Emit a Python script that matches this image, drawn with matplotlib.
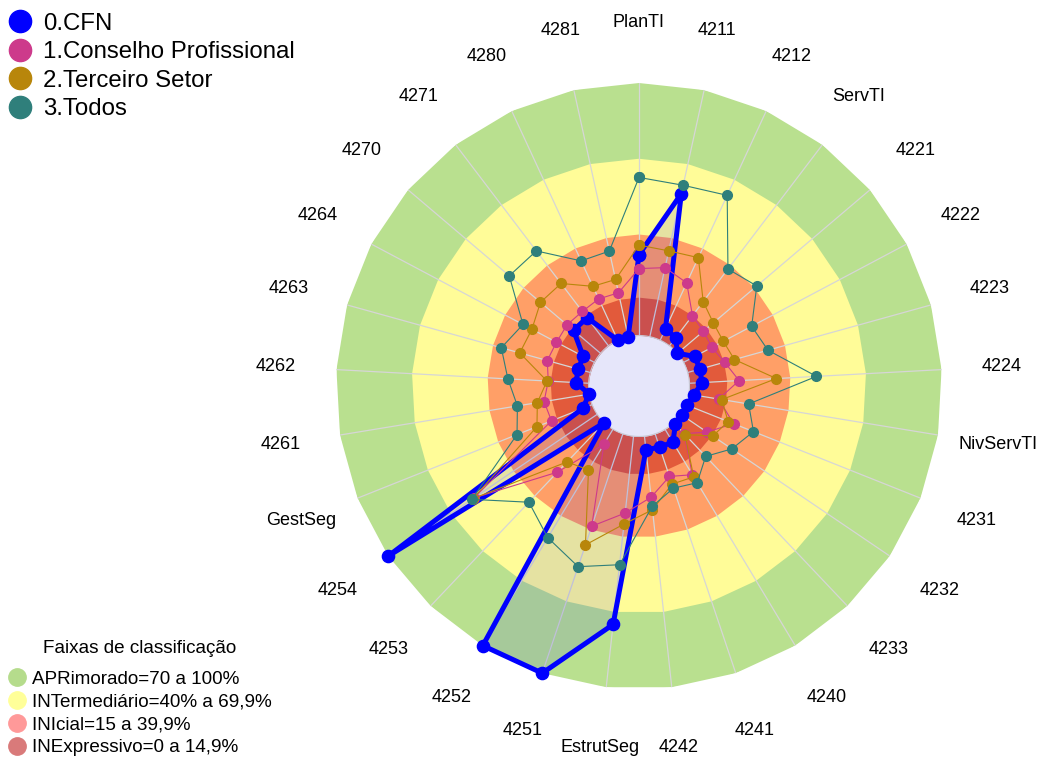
import numpy as np
import matplotlib
matplotlib.use('Agg')
import matplotlib.pyplot as plt
from matplotlib.lines import Line2D

plt.rcParams['font.family'] = ['Liberation Sans', 'DejaVu Sans']

categories = ['PlanTI', '4211', '4212', 'ServTI', '4221', '4222', '4223', '4224',
              'NivServTI', '4231', '4232', '4233', '4240', '4241', '4242', 'EstrutSeg',
              '4251', '4252', '4253', '4254', 'GestSeg', '4261', '4262', '4263', '4264',
              '4270', '4271', '4280', '4281']

cfn = [32, 58, 5, 4, 0, 5, 5, 5, 2, 0.5, 0.5, 1, 6, 5.5, 5.5, 75, 100, 100, 0, 100,
       4, 0, 5, 5, 5, 14, 14, 0, 0]
conselho = [26.5, 28, 25, 15, 13.5, 12.7, 15.2, 19.7, 12, 20.3, 12.5, 6, 21, 17.8, 24.3,
            30.6, 38.6, 7, 27, 59, 17.3, 18.1, 16, 17.7, 17, 17.4, 17.1, 18, 17.8]
terceiro = [35.8, 34.8, 36, 22, 18.6, 17.8, 19.2, 34.5, 13.2, 18, 15.3, 6.5, 22, 21, 29.3,
            35, 46.4, 18.8, 21.4, 59.5, 23.5, 20.8, 16.5, 29, 28, 31.2, 31, 23.5, 23.2]
todos = [62.6, 61.4, 63.2, 38.2, 41.2, 30.5, 33, 50.4, 24, 28.8, 24.4, 18.4, 24.7, 22.7, 28,
         51.2, 55.5, 50.1, 43.4, 60, 32, 28.8, 32, 36.6, 32, 47.4, 47.2, 34.6, 34.7]

series_names = ['0.CFN', '1.Conselho Profissional', '2.Terceiro Setor', '3.Todos']
series_values = [cfn, conselho, terceiro, todos]
series_colors = ['#0000FF', '#CD3A8B', '#B8860B', '#2F7F7B']

band_limits = [100, 70, 40, 15]
band_colors = ['#B9E08F', '#FFFC98', '#FF9F67', '#E25A3B']
band_labels = ['APRimorado=70 a 100%', 'INTermediário=40% a 69,9%',
               'INIcial=15 a 39,9%', 'INExpressivo=0 a 14,9%']
legend_band_colors = ['#B5DC8C', '#FFFF99', '#FF9999', '#D97A7A']

n = len(categories)
theta = np.linspace(0, 2 * np.pi, n, endpoint=False)
tc = np.append(theta, theta[0])


def close(v):
    v = np.asarray(v, dtype=float)
    return np.append(v, v[0])


fig = plt.figure(figsize=(10.41, 7.58), dpi=100)
ax = fig.add_axes([336 / 1041, 69 / 758, 606 / 1041, 606 / 758], projection='polar')
ax.set_theta_zero_location('N')
ax.set_theta_direction(-1)
ax.set_ylim(-20, 100)

for lim, col in zip(band_limits, band_colors):
    ax.fill(tc, np.full(n + 1, lim), color=col, lw=0, zorder=1)
for t in theta:
    ax.plot([t, t], [0, 100], color='#D6D6D6', lw=0.9, zorder=2)

ax.fill(tc, close(cfn), color='blue', alpha=0.1, lw=0, zorder=3)

tf = np.linspace(0, 2 * np.pi, 361)
ax.fill_between(tf, -20, 0, color='#E6E6FA', zorder=4, lw=0)
ax.plot(tf, np.zeros_like(tf), color='#C8C8D4', lw=0.8, zorder=4)

styles = [(3.6, 8.8), (0.8, 7), (0.8, 7), (0.8, 7)]
for i, (vals, col, (lw, ms)) in enumerate(zip(series_values, series_colors, styles)):
    ax.plot(tc, close(vals), color=col, lw=lw, marker='o', ms=ms, zorder=5 + i,
            clip_on=False)

for t, lab in zip(theta, categories):
    ax.text(t, 124, lab, ha='center', va='center', fontsize=13, clip_on=False)

ax.set_xticks([])
ax.set_yticks([])
ax.grid(False)
ax.spines['polar'].set_visible(False)
ax.patch.set_visible(False)

h1 = [Line2D([], [], ls='', marker='o', ms=16, color=c) for c in series_colors]
fig.legend(h1, series_names, loc='upper left', bbox_to_anchor=(3 / 1041, 1 - 8 / 758),
           frameon=False, fontsize=17.3, handlelength=1.0, handletextpad=0.45,
           labelspacing=0.27, borderpad=0.2, borderaxespad=0)
h2 = [Line2D([], [], ls='', marker='o', ms=12.5, color=c) for c in legend_band_colors]
leg2 = fig.legend(h2, band_labels, loc='lower left', bbox_to_anchor=(6 / 1041, 0.0),
                  frameon=False, fontsize=13.6, title='Faixas de classificação',
                  title_fontsize=13.6, handlelength=1.0, handletextpad=0.3,
                  labelspacing=0.29, borderpad=0.1, borderaxespad=0)
leg2._legend_box.sep = 9.7

fig.savefig('out.png', dpi=100)
